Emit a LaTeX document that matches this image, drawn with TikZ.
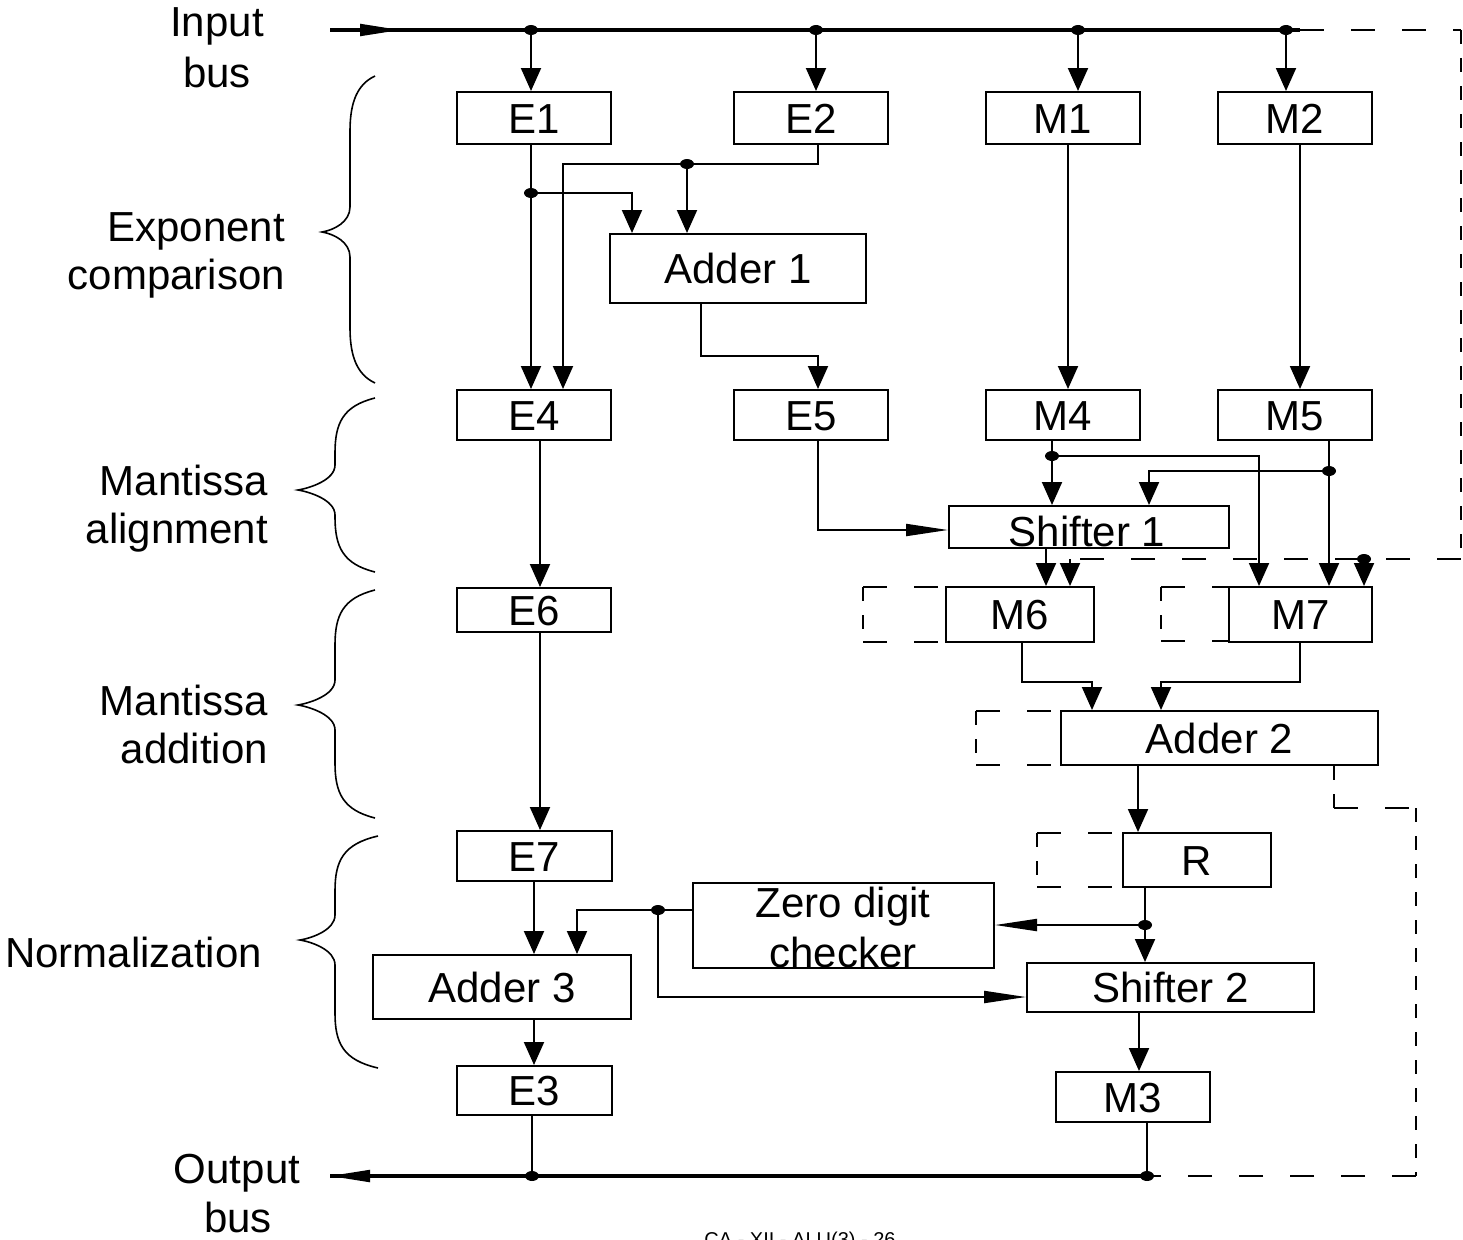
\documentclass[tikz,border=0pt]{standalone}
\usepackage{fontspec}
\setmainfont{Liberation Sans}
\usetikzlibrary{arrows.meta}
\newcommand\bigf{\fontsize{42}{48}\selectfont}
\tikzset{
  bx/.style={draw, line width=2pt, inner sep=0pt, font=\bigf, text height=30pt, text depth=0pt},
  lbl/.style={font=\bigf, inner sep=0pt},
  wire/.style={line width=2pt},
  bus/.style={line width=3.2pt},
  va/.style={-{Triangle[length=23pt,width=20pt]}},
  ha/.style={-{Triangle[length=42pt,width=12pt]}},
  dh/.style={line width=2.2pt, dash pattern=on 24pt off 27pt},
  dv/.style={line width=2.2pt, dash pattern=on 14pt off 14pt},
  brc/.style={line width=1.6pt},
}
\newcommand\mybrace[6]{\draw[brc] (#1,#2) .. controls (#3+8,#2+8) and (#3,#2+25) .. (#3,#2+55) -- (#3,#5-25) .. controls (#3,#5-10) and (#4+12,#5-2) .. (#4,#5) .. controls (#4+12,#5+2) and (#3,#5+10) .. (#3,#5+25) -- (#3,#6-55) .. controls (#3,#6-25) and (#3+8,#6-8) .. (#1,#6);}
\newcommand\dbox[4]{\draw[dh] (#2,#3) -- (#1,#3); \draw[dh] (#2,#4) -- (#1,#4); \draw[dv] (#2,#3) -- (#2,#4);}
\newcommand\jdot[2]{\fill (#1,#2) ellipse (7pt and 5pt);}
\begin{document}
\begin{tikzpicture}[x=1pt,y=-1pt]
\useasboundingbox (0,0) rectangle (1463,1239);
% boxes
\node[bx, minimum width=154pt, minimum height=52pt] (e1) at (534,118) {E1};
\node[bx, minimum width=154pt, minimum height=52pt] (e2) at (811,118) {E2};
\node[bx, minimum width=154pt, minimum height=52pt] (m1) at (1063,118) {M1};
\node[bx, minimum width=154pt, minimum height=52pt] (m2) at (1295,118) {M2};
\node[bx, minimum width=256pt, minimum height=69pt] (add1) at (738,268.5) {Adder 1};
\node[bx, minimum width=154pt, minimum height=50pt] (e4) at (534,415) {E4};
\node[bx, minimum width=154pt, minimum height=50pt] (e5) at (811,415) {E5};
\node[bx, minimum width=154pt, minimum height=50pt] (m4) at (1063,415) {M4};
\node[bx, minimum width=154pt, minimum height=50pt] (m5) at (1295,415) {M5};
\node[bx, minimum width=280pt, minimum height=42pt] (sh1) at (1089,527) {};
\node[lbl, anchor=base] (sh1t) at (1087,546) {Shifter 1};
\node[bx, minimum width=154pt, minimum height=44pt] (e6) at (534,610) {E6};
\node[bx, minimum width=148pt, minimum height=55pt] (m6) at (1020,614.5) {M6};
\node[bx, minimum width=143pt, minimum height=55pt] (m7) at (1300.5,614.5) {M7};
\node[bx, minimum width=317pt, minimum height=54pt] (add2) at (1219.5,738) {Adder 2};
\node[bx, minimum width=155pt, minimum height=50pt] (e7) at (534.5,856) {E7};
\node[bx, minimum width=148pt, minimum height=54pt] (r) at (1197,860) {R};
\node[bx, minimum width=301pt, minimum height=85pt] (zdc) at (843.5,925.5) {};
\node[lbl, anchor=base] (zt1) at (843,917) {Zero digit};
\node[lbl, anchor=base] (zt2) at (843,967) {checker};
\node[bx, minimum width=258pt, minimum height=64pt] (add3) at (502,987) {Adder 3};
\node[bx, minimum width=287pt, minimum height=49pt] (sh2) at (1170.5,987.5) {Shifter 2};
\node[bx, minimum width=155pt, minimum height=49pt] (e3) at (534.5,1090.5) {E3};
\node[bx, minimum width=154pt, minimum height=50pt] (m3) at (1133,1097) {M3};
% dashed open boxes
\dbox{946}{863}{587}{642}
\dbox{1229}{1161}{587}{641}
\dbox{1061}{976}{711}{765}
\dbox{1123}{1037}{833}{887}
% left labels
\node[lbl, anchor=base] (in1) at (217,37) {Input};
\node[lbl, anchor=base] (in2) at (217,87) {bus};
\node[lbl, anchor=base east] (ex1) at (285,241) {Exponent};
\node[lbl, anchor=base east] (ex2) at (285,289) {comparison};
\node[lbl, anchor=base east] (ma1) at (268,495) {Mantissa};
\node[lbl, anchor=base east] (ma2) at (268,543) {alignment};
\node[lbl, anchor=base east] (md1) at (268,715) {Mantissa};
\node[lbl, anchor=base east] (md2) at (268,763) {addition};
\node[lbl, anchor=base west] (nm) at (5,967) {Normalization};
\node[lbl, anchor=base] (ou1) at (237,1183) {Output};
\node[lbl, anchor=base] (ou2) at (238,1232) {bus};
\node[anchor=base, inner sep=0pt, font=\fontsize{20}{24}\selectfont] (foot) at (800,1246) {CA - XII - ALU(3) - 26};
% braces
\mybrace{375}{76}{350}{322}{232}{383}
\mybrace{375}{398}{335}{298}{490}{572}
\mybrace{375}{590}{335}{298}{705}{818}
\mybrace{378}{836}{335}{300}{940}{1068}
% input bus
\coordinate (ib0) at (330,30);
\coordinate (ib1) at (1300,30);
\draw[bus] (ib0) -- (ib1);
\draw[line width=2pt,-{Triangle[length=40pt,width=12pt]}] (ib0) -- (400,30);
\draw[dh, line width=2.6pt] (ib1) -- (1461,30);
\draw[dv, line width=2.6pt] (1461,30) -- (1461,559);
\draw[dh, line width=2.6pt] (1461,559) -- (1070,559);
\jdot{531}{30}\jdot{816}{30}\jdot{1078}{30}\jdot{1286}{30}
\draw[wire,va] (531,30) -- (531,0 |- e1.north);
\draw[wire,va] (816,30) -- (816,0 |- e2.north);
\draw[wire,va] (1078,30) -- (1078,0 |- m1.north);
\draw[wire,va] (1286,30) -- (1286,0 |- m2.north);
% exponent comparison
\draw[wire,va] (531,0 |- e1.south) -- (531,0 |- e4.north);
\jdot{531}{193}
\draw[wire,va] (531,193) -- (632,193) -- (632,0 |- add1.north);
\draw[wire,va] (818,0 |- e2.south) -- (818,164) -- (563,164) -- (563,0 |- e4.north);
\jdot{687}{164}
\draw[wire,va] (687,164) -- (687,0 |- add1.north);
\draw[wire,va] (701,0 |- add1.south) -- (701,356) -- (818,356) -- (818,0 |- e5.north);
\draw[wire,va] (1068,0 |- m1.south) -- (1068,0 |- m4.north);
\draw[wire,va] (1300,0 |- m2.south) -- (1300,0 |- m5.north);
% alignment
\draw[wire,va] (540,0 |- e4.south) -- (540,0 |- e6.north);
\draw[wire,ha] (818,0 |- e5.south) -- (818,530) -- (sh1.west |- 0,530);
\draw[wire,va] (1052,0 |- m4.south) -- (1052,0 |- sh1.north);
\jdot{1052}{456}
\draw[wire,va] (1052,456) -- (1259,456) -- (1259,0 |- m7.north);
\draw[wire,va] (1329,0 |- m5.south) -- (1329,0 |- m7.north);
\jdot{1329}{471}
\draw[wire,va] (1329,471) -- (1149,471) -- (1149,0 |- sh1.north);
\draw[wire,va] (1046,0 |- sh1.south) -- (1046,0 |- m6.north);
\draw[wire,va] (1070,559) -- (1070,0 |- m6.north);
\jdot{1364}{559}
\draw[wire,va] (1364,559) -- (1364,0 |- m7.north);
% addition
\draw[wire,va] (540,0 |- e6.south) -- (540,0 |- e7.north);
\draw[wire,va] (1022,0 |- m6.south) -- (1022,682) -- (1092,682) -- (1092,0 |- add2.north);
\draw[wire,va] (1300,0 |- m7.south) -- (1300,682) -- (1161,682) -- (1161,0 |- add2.north);
\draw[wire,va] (1138,0 |- add2.south) -- (1138,0 |- r.north);
\draw[dv] (1334,0 |- add2.south) -- (1334,808);
\draw[dh] (1334,808) -- (1416,808);
\draw[dv] (1416,808) -- (1416,1176);
\draw[dh, line width=2.6pt] (1416,1176) -- (1148,1176);
% normalization
\draw[wire,va] (534,0 |- e7.south) -- (534,0 |- add3.north);
\draw[wire,va] (1145,0 |- r.south) -- (1145,0 |- sh2.north);
\jdot{1145}{925}
\draw[wire,ha] (1145,925) -- (zdc.east |- 0,925);
\draw[wire,va] (zdc.west |- 0,910) -- (577,910) -- (577,0 |- add3.north);
\jdot{658}{910}
\draw[wire,ha] (658,910) -- (658,997) -- (sh2.west |- 0,997);
\draw[wire,va] (534,0 |- add3.south) -- (534,0 |- e3.north);
\draw[wire,va] (1139,0 |- sh2.south) -- (1139,0 |- m3.north);
% output bus
\coordinate (ob0) at (1148,1176);
\coordinate (ob1) at (330,1176);
\draw[bus] (ob0) -- (ob1);
\draw[line width=2pt,-{Triangle[length=40pt,width=12pt]}] (400,1176) -- (ob1);
\draw[wire] (532,0 |- e3.south) -- (532,1176);
\draw[wire] (1147,0 |- m3.south) -- (1147,1176);
\jdot{532}{1176}\jdot{1147}{1176}
\end{tikzpicture}
\end{document}
